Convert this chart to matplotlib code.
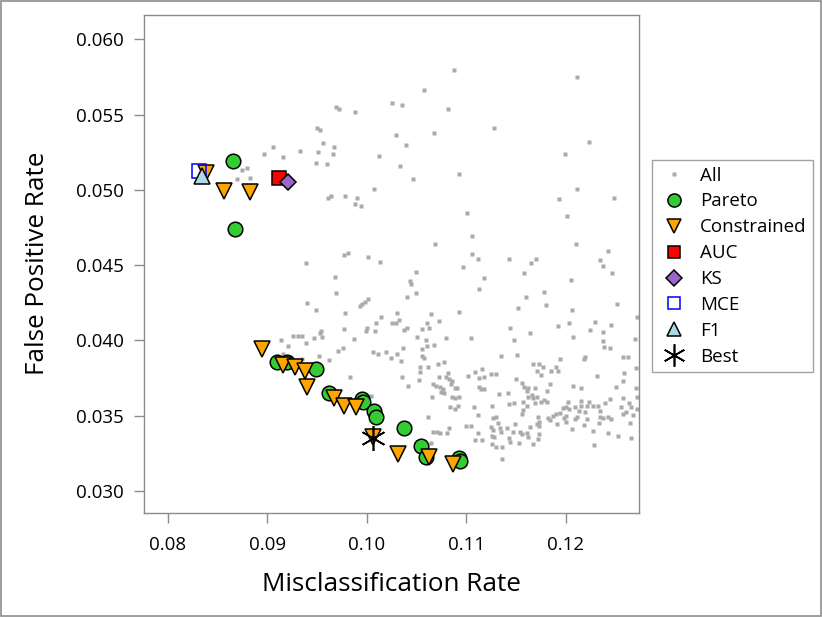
import matplotlib
matplotlib.use("Agg")
import matplotlib.pyplot as plt
from matplotlib.patches import Rectangle
from matplotlib.ticker import FormatStrFormatter
import numpy as np

plt.rcParams['font.family'] = ['Open Sans', 'DejaVu Sans']

# gray cloud: every evaluated model
all_x = [
    0.09688, 0.09725, 0.09882, 0.10257, 0.10352, 0.09503, 0.09531, 0.10297, 0.10398, 0.09564,
    0.09674, 0.09508, 0.09661, 0.09327, 0.09058, 0.08968, 0.09159, 0.10121, 0.09493, 0.09601,
    0.10332, 0.10465, 0.08744, 0.08800, 0.08693, 0.08830, 0.10070, 0.09608, 0.09638, 0.09782,
    0.09905, 0.09879, 0.09946, 0.09772, 0.09812, 0.10013,
    0.10880, 0.12110, 0.10576, 0.10817, 0.11282, 0.10673, 0.12237, 0.11996, 0.10928, 0.12110,
    0.11933, 0.12482, 0.11005, 0.12010, 0.11058, 0.10686, 0.12106, 0.12425, 0.11055, 0.11116,
    0.11433, 0.11704, 0.12345,
    0.09390, 0.10134, 0.10495, 0.09681, 0.10432, 0.10442, 0.09691, 0.10495, 0.10405, 0.10010,
    0.09983, 0.09950, 0.09933, 0.09397, 0.09487, 0.09779, 0.10301, 0.10646, 0.10141, 0.10928,
    0.10090, 0.10251, 0.10291, 0.10325, 0.10606, 0.10730, 0.09769, 0.10006, 0.09993, 0.10083,
    0.10375, 0.10402, 0.10559, 0.10626, 0.09541, 0.09528, 0.09262, 0.09313, 0.09353, 0.09467,
    0.09551, 0.09142, 0.09875, 0.10502, 0.10593, 0.10794, 0.09390, 0.09212, 0.10609, 0.10676,
    0.10553, 0.10362, 0.09765, 0.09715, 0.10063, 0.10117, 0.10194, 0.10301, 0.10553, 0.10579,
    0.10244, 0.09524, 0.09624, 0.09162, 0.09353, 0.10345, 0.10780, 0.10720, 0.10539, 0.10619,
    0.10536, 0.10814, 0.10730, 0.10794, 0.10830, 0.10860, 0.09829, 0.10358, 0.10529, 0.10663,
    0.10699, 0.10737, 0.10764, 0.10750, 0.10844, 0.10887, 0.10910, 0.10418, 0.10774, 0.10659,
    0.10860, 0.10887, 0.10928, 0.10040, 0.10837, 0.10887, 0.10921, 0.10616, 0.10669, 0.10703,
    0.10737, 0.10804, 0.10830, 0.10646,
    0.10965, 0.11648, 0.12372, 0.11584, 0.12465, 0.11182, 0.12050, 0.11132, 0.11785, 0.11601,
    0.11799, 0.11524, 0.12515, 0.12066, 0.12719, 0.12294, 0.12036, 0.11920, 0.12458, 0.11440,
    0.12241, 0.12378, 0.11638, 0.12076, 0.11048, 0.11477, 0.12372, 0.12696, 0.12388, 0.12445,
    0.11353, 0.11513, 0.12194, 0.12181, 0.12573, 0.12626, 0.11946, 0.11674, 0.11732, 0.11772,
    0.11715, 0.11749, 0.11902, 0.11920, 0.11855, 0.12703, 0.12586, 0.11156, 0.11091, 0.11021,
    0.11182, 0.11129, 0.11246, 0.11299, 0.12311, 0.11497, 0.12579, 0.11558, 0.11584, 0.11842,
    0.11691, 0.11624, 0.11608, 0.11809, 0.12070, 0.12154, 0.12505, 0.12703, 0.11132, 0.11149,
    0.11179, 0.11333, 0.11417, 0.11624, 0.11658, 0.11674, 0.11715, 0.11752, 0.11785, 0.11815,
    0.11691, 0.11608, 0.11568, 0.11480, 0.11430, 0.11568, 0.11558, 0.12020, 0.12151, 0.12237,
    0.12445, 0.12579, 0.12713, 0.12395, 0.11256, 0.11081, 0.12151, 0.12093, 0.12003, 0.12033,
    0.11970, 0.12211, 0.12277, 0.12328, 0.12556, 0.12639, 0.12653, 0.12713, 0.12137, 0.12191,
    0.12345, 0.12606, 0.12679, 0.12579, 0.11902, 0.11943, 0.12000, 0.11875, 0.11825, 0.11983,
    0.12110, 0.12093, 0.12217, 0.12345, 0.12378, 0.12422, 0.12455, 0.11842, 0.11725, 0.11735,
    0.11708, 0.11732, 0.11909, 0.12003, 0.12335, 0.12646, 0.11116, 0.11272, 0.11296, 0.11323,
    0.11490, 0.11641, 0.10998, 0.11045, 0.11249, 0.11266, 0.11340, 0.11407, 0.11347, 0.11473,
    0.11558, 0.11541, 0.11608, 0.11618, 0.11732, 0.11725, 0.11430, 0.11440, 0.11531, 0.11674,
    0.11256, 0.11282, 0.11122, 0.11088, 0.11156, 0.11256, 0.11299, 0.11357, 0.11357, 0.12060,
    0.12187, 0.12271, 0.12428, 0.12523, 0.12656, 0.12287,
]
all_y = [
    0.05552, 0.05539, 0.05515, 0.05579, 0.05563, 0.05410, 0.05399, 0.05366, 0.05300, 0.05313,
    0.05286, 0.05251, 0.05240, 0.05260, 0.05286, 0.05236, 0.05218, 0.05222, 0.05178, 0.05171,
    0.05156, 0.05070, 0.05131, 0.05147, 0.05072, 0.05080, 0.05003, 0.04947, 0.04957, 0.04961,
    0.04947, 0.04907, 0.04892, 0.04566, 0.04582, 0.04555,
    0.05798, 0.05747, 0.05665, 0.05537, 0.05409, 0.05375, 0.05319, 0.05236, 0.05107, 0.05003,
    0.04939, 0.04945, 0.04848, 0.04826, 0.04691, 0.04642, 0.04640, 0.04595, 0.04575, 0.04538,
    0.04538, 0.04542, 0.04533,
    0.04513, 0.04522, 0.04455, 0.04420, 0.04396, 0.04374, 0.04312, 0.04314, 0.04289, 0.04276,
    0.04256, 0.04239, 0.04228, 0.04245, 0.04201, 0.04179, 0.04183, 0.04172, 0.04154, 0.04186,
    0.04117, 0.04117, 0.04115, 0.04132, 0.04115, 0.04128, 0.04077, 0.04083, 0.04061, 0.04061,
    0.04068, 0.04079, 0.04075, 0.04079, 0.04063, 0.04050, 0.04030, 0.04028, 0.04028, 0.04015,
    0.04019, 0.04002, 0.04006, 0.04021, 0.04002, 0.04013, 0.03980, 0.03962, 0.03962, 0.03968,
    0.03944, 0.03948, 0.03946, 0.03930, 0.03920, 0.03907, 0.03920, 0.03907, 0.03897, 0.03884,
    0.03880, 0.03897, 0.03871, 0.03910, 0.03877, 0.03862, 0.03857, 0.03840, 0.03824, 0.03820,
    0.03791, 0.03780, 0.03758, 0.03754, 0.03742, 0.03731, 0.03756, 0.03758, 0.03736, 0.03709,
    0.03696, 0.03691, 0.03678, 0.03658, 0.03709, 0.03681, 0.03685, 0.03698, 0.03651, 0.03621,
    0.03625, 0.03618, 0.03625, 0.03629, 0.03558, 0.03543, 0.03565, 0.03492, 0.03388, 0.03392,
    0.03385, 0.03381, 0.03417, 0.03315,
    0.04485, 0.04511, 0.04495, 0.04447, 0.04445, 0.04412, 0.04400, 0.04339, 0.04323, 0.04285,
    0.04234, 0.04214, 0.04239, 0.04199, 0.04156, 0.04123, 0.04117, 0.04095, 0.04101, 0.04081,
    0.04068, 0.04053, 0.04050, 0.04021, 0.04017, 0.04002, 0.03993, 0.04006, 0.03957, 0.03946,
    0.03897, 0.03902, 0.03891, 0.03877, 0.03887, 0.03889, 0.03875, 0.03844, 0.03844, 0.03820,
    0.03798, 0.03769, 0.03820, 0.03796, 0.03796, 0.03817, 0.03780, 0.03811, 0.03789, 0.03764,
    0.03754, 0.03749, 0.03778, 0.03778, 0.03760, 0.03744, 0.03729, 0.03714, 0.03691, 0.03711,
    0.03685, 0.03681, 0.03663, 0.03665, 0.03698, 0.03683, 0.03689, 0.03683, 0.03691, 0.03674,
    0.03674, 0.03643, 0.03647, 0.03625, 0.03636, 0.03618, 0.03621, 0.03591, 0.03603, 0.03591,
    0.03581, 0.03565, 0.03588, 0.03581, 0.03576, 0.03536, 0.03510, 0.03591, 0.03598, 0.03588,
    0.03607, 0.03618, 0.03621, 0.03585, 0.03565, 0.03558, 0.03565, 0.03558, 0.03558, 0.03543,
    0.03548, 0.03563, 0.03563, 0.03565, 0.03554, 0.03581, 0.03558, 0.03543, 0.03530, 0.03525,
    0.03532, 0.03525, 0.03503, 0.03512, 0.03510, 0.03518, 0.03498, 0.03496, 0.03485, 0.03485,
    0.03492, 0.03475, 0.03475, 0.03492, 0.03481, 0.03488, 0.03475, 0.03470, 0.03488, 0.03459,
    0.03443, 0.03432, 0.03443, 0.03459, 0.03448, 0.03452, 0.03501, 0.03485, 0.03488, 0.03448,
    0.03443, 0.03421, 0.03432, 0.03432, 0.03421, 0.03403, 0.03419, 0.03419, 0.03388, 0.03392,
    0.03377, 0.03388, 0.03381, 0.03359, 0.03377, 0.03344, 0.03348, 0.03326, 0.03317, 0.03310,
    0.03364, 0.03359, 0.03385, 0.03337, 0.03337, 0.03312, 0.03292, 0.03288, 0.03209, 0.03410,
    0.03437, 0.03399, 0.03381, 0.03364, 0.03348, 0.03302,
]

pareto_x = [0.08659, 0.08673, 0.09095, 0.09196, 0.09490, 0.09624, 0.09956, 0.09966,
            0.10076, 0.10090, 0.10378, 0.10546, 0.10596, 0.10931, 0.10938]
pareto_y = [0.05191, 0.04737, 0.03857, 0.03857, 0.03809, 0.03647, 0.03609, 0.03591,
            0.03530, 0.03488, 0.03415, 0.03299, 0.03222, 0.03215, 0.03197]

constr_x = [0.08382, 0.08566, 0.08827, 0.08948, 0.09156, 0.09279, 0.09380, 0.09397,
            0.09674, 0.09775, 0.09889, 0.10066, 0.10318, 0.10623, 0.10864]
constr_y = [0.05109, 0.04994, 0.04987, 0.03940, 0.03835, 0.03824, 0.03798, 0.03691,
            0.03618, 0.03563, 0.03554, 0.03359, 0.03244, 0.03226, 0.03177]

auc_x, auc_y = [0.09122], [0.05076]
ks_x, ks_y = [0.09206], [0.05050]
mce_x, mce_y = [0.08318], [0.05125]
f1_x, f1_y = [0.08348], [0.05091]
best_x, best_y = [0.10066], [0.03348]

x_ticks = [0.08, 0.09, 0.10, 0.11, 0.12]
y_ticks = [0.030, 0.035, 0.040, 0.045, 0.050, 0.055, 0.060]

grey = '#8c8c8c'

fig = plt.figure(figsize=(8.22, 6.17), dpi=100)
ax = fig.add_axes([0.1748, 0.169, 0.6029, 0.8072])

ax.plot(all_x, all_y, 's', ms=3, color='#aaaaaa', mec='none', label='All', zorder=1)
ax.plot(pareto_x, pareto_y, 'o', ms=10.5, mfc='#33cc33', mec='black', mew=1.1,
        linestyle='none', label='Pareto', zorder=2)
ax.plot(constr_x, constr_y, 'v', ms=11.5, mfc='#ffa500', mec='black', mew=1.1,
        linestyle='none', label='Constrained', zorder=3)
ax.plot(auc_x, auc_y, 's', ms=10, mfc='#ff0000', mec='black', mew=1.1,
        linestyle='none', label='AUC', zorder=4)
ax.plot(ks_x, ks_y, 'D', ms=8.5, mfc='#9966cc', mec='black', mew=1.1,
        linestyle='none', label='KS', zorder=5)
ax.plot(mce_x, mce_y, 's', ms=9.5, mfc='none', mec='#0000ff', mew=1.1,
        linestyle='none', label='MCE', zorder=6)
ax.plot(f1_x, f1_y, '^', ms=11, mfc='#add8e6', mec='black', mew=1.1,
        linestyle='none', label='F1', zorder=7)
ax.plot(best_x, best_y, marker=(6, 2, 0), ms=18, color='black', mew=1.2,
        linestyle='none', label='Best', zorder=8)

ax.set_xlim(0.07759, 0.1274)
ax.set_ylim(0.02854, 0.06164)
ax.set_xticks(x_ticks)
ax.set_yticks(y_ticks)
ax.xaxis.set_major_formatter(FormatStrFormatter('%.2f'))
ax.yaxis.set_major_formatter(FormatStrFormatter('%.3f'))
ax.tick_params(direction='out', length=7, width=1, color=grey, labelsize=13.5)
ax.tick_params(axis='x', pad=10)
ax.tick_params(axis='y', pad=7)
for s in ax.spines.values():
    s.set_color(grey)
    s.set_linewidth(1)

ax.set_xlabel('Misclassification Rate', fontsize=18.8, labelpad=13)
ax.set_ylabel('False Positive Rate', fontsize=18.8, labelpad=19)

leg = fig.legend(loc='upper left', bbox_to_anchor=(652 / 822, 1 - 160 / 617),
                 fontsize=13.5, frameon=True, fancybox=False, borderaxespad=0,
                 handlelength=1.6, handletextpad=0.6, labelspacing=0.42,
                 borderpad=0.35, markerscale=0.9)
leg.get_frame().set_edgecolor(grey)
leg.get_frame().set_linewidth(1)

fig.patches.append(Rectangle((0.001, 0.001), 0.998, 0.998, transform=fig.transFigure,
                             fill=False, edgecolor=grey, linewidth=1.2))

fig.savefig('out.png', dpi=100)
